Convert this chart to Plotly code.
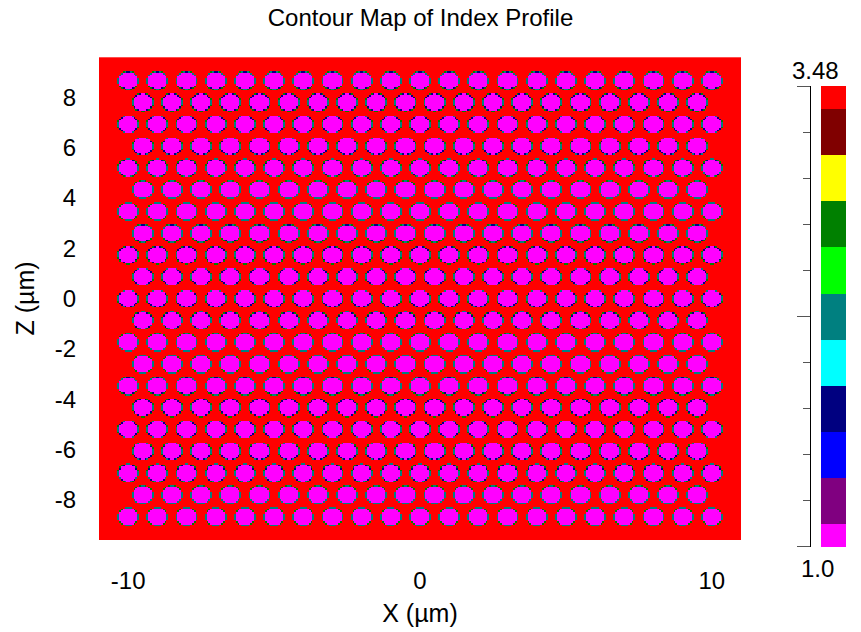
import numpy as np
import plotly.graph_objects as go

# ---------------- data ----------------
title_text = "Contour Map of Index Profile"
n_background = 3.48
n_hole = 1.0
index_levels = [1.0, 1.248, 1.496, 1.744, 1.992, 2.24, 2.488, 2.736, 2.984, 3.232, 3.48]
level_colors = ["#FF00FF", "#800080", "#0000FF", "#000080", "#00FFFF", "#008080",
                "#00FF00", "#008000", "#FFFF00", "#800000", "#FF0000"]

# hole rows (z, µm) of the triangular lattice, top to bottom
row_z = [8.660, 7.794, 6.928, 6.062, 5.196, 4.330, 3.464, 2.598, 1.732, 0.866, 0.0,
         -0.866, -1.732, -2.598, -3.464, -4.330, -5.196, -6.062, -6.928, -7.794, -8.660]
row_is_full = [True, False, True, False, True, False, True, False, True, False, True,
               False, True, False, True, False, True, False, True, False, True]
cols_full = [-10, -9, -8, -7, -6, -5, -4, -3, -2, -1, 0, 1, 2, 3, 4, 5, 6, 7, 8, 9, 10]
cols_offset = [-9.5, -8.5, -7.5, -6.5, -5.5, -4.5, -3.5, -2.5, -1.5, -0.5,
               0.5, 1.5, 2.5, 3.5, 4.5, 5.5, 6.5, 7.5, 8.5, 9.5]
hole_radius = 0.35

x_range = [-11.0, 11.0]
z_range = [-9.6, 9.6]
x_tickvals = [-10, 0, 10]
x_ticktext = ["-10", "0", "10"]
z_tickvals = [8, 6, 4, 2, 0, -2, -4, -6, -8]
z_ticktext = ["8", "6", "4", "2", "0", "-2", "-4", "-6", "-8"]

# ---------------- index grid ----------------
step = 0.0625
x_c = np.arange(x_range[0] + step / 2, x_range[1], step)
z_c = np.arange(z_range[0] + step / 2, z_range[1], step)
sub = 2
xs = (x_c[:, None] + (np.arange(sub) + 0.5 - sub / 2) * step / sub).ravel()
zs = (z_c[:, None] + (np.arange(sub) + 0.5 - sub / 2) * step / sub).ravel()
inside = np.zeros((zs.size, xs.size), dtype=bool)
for zc, full in zip(row_z, row_is_full):
    zi = np.where(np.abs(zs - zc) <= hole_radius + step)[0]
    for xc in (cols_full if full else cols_offset):
        xi = np.where(np.abs(xs - xc) <= hole_radius + step)[0]
        XX, ZZ = np.meshgrid(xs[xi], zs[zi])
        inside[np.ix_(zi, xi)] |= (XX - xc) ** 2 + (ZZ - zc) ** 2 <= hole_radius ** 2
frac = inside.reshape(z_c.size, sub, x_c.size, sub).mean(axis=(1, 3))
# partially-filled edge cells of the index mesh
edge_level_index = {0.0: 10, 0.25: 7, 0.5: 5, 0.75: 3, 1.0: 0}
lev_idx = np.zeros(frac.shape, dtype=int)
for f, li in edge_level_index.items():
    lev_idx[np.isclose(frac, f)] = li
n_grid = np.array(index_levels)[lev_idx]

# discrete colour scale: each level owns a band centred on it
d = index_levels[1] - index_levels[0]
zmin = index_levels[0] - d / 2
zmax = index_levels[-1] + d / 2
nL = len(level_colors)
colorscale = []
for i, c in enumerate(level_colors):
    colorscale.append([i / nL, c])
    colorscale.append([(i + 1) / nL, c])

font_family = "Arial, 'Liberation Sans', sans-serif"

fig = go.Figure()
fig.add_trace(go.Heatmap(x=x_c, y=z_c, z=n_grid, colorscale=colorscale,
                         zmin=zmin, zmax=zmax, showscale=False, zsmooth=False,
                         hoverinfo="skip"))
# colour bar drawn as its own heatmap
fig.add_trace(go.Heatmap(x=[0], y=index_levels, z=[[v] for v in index_levels],
                         colorscale=colorscale, zmin=zmin, zmax=zmax,
                         showscale=False, xaxis="x2", yaxis="y2", hoverinfo="skip"))

W, H = 861, 632
ml, mr, mt, mb = 99, 10, 57, 85
pw, ph = W - ml - mr, H - mt - mb


def px_x(p):
    return (p - ml) / pw


def px_y(p):
    return (H - mb - p) / ph


fig.update_layout(
    width=W, height=H,
    margin=dict(l=ml, r=mr, t=mt, b=mb, pad=0),
    paper_bgcolor="white", plot_bgcolor="white",
    font=dict(family=font_family, color="black", size=24),
    title=dict(text=title_text, xref="container", yref="container",
               x=420.5 / W, y=1 - 18 / H, xanchor="center", yanchor="middle",
               font=dict(size=24, family=font_family, color="black")),
    xaxis=dict(domain=[0, px_x(741)], range=x_range, tickmode="array",
               tickvals=x_tickvals, ticktext=x_ticktext, ticks="", showgrid=False,
               zeroline=False, showline=False, ticklabelstandoff=24,
               tickfont=dict(size=24),
               title=dict(text="X (µm)", font=dict(size=25), standoff=11)),
    yaxis=dict(domain=[px_y(540), 1], range=z_range, tickmode="array",
               tickvals=z_tickvals, ticktext=z_ticktext, ticks="", showgrid=False,
               zeroline=False, showline=False, ticklabelstandoff=22,
               tickfont=dict(size=24),
               title=dict(text="Z (µm)", font=dict(size=25), standoff=12)),
    xaxis2=dict(domain=[px_x(821), px_x(846)], anchor="y2", range=[-0.5, 0.5],
                visible=False),
    yaxis2=dict(domain=[0, px_y(86)], anchor="free", position=px_x(810), side="left",
                range=[index_levels[0] - 0.0005, index_levels[-1] + 0.0005],
                showline=True, linecolor="black", linewidth=1,
                tickmode="linear", tick0=index_levels[0],
                dtick=(index_levels[-1] - index_levels[0]) / 2,
                ticks="outside", ticklen=13, tickwidth=1, tickcolor="#555555",
                minor=dict(ticks="outside", tick0=index_levels[0], dtick=d,
                           ticklen=7, tickwidth=1, tickcolor="#555555", showgrid=False),
                showticklabels=False, showgrid=False, zeroline=False),
    annotations=[
        dict(text=f"{index_levels[-1]:.2f}", xref="paper", yref="paper",
             x=px_x(815), y=px_y(70), xanchor="center", yanchor="middle",
             showarrow=False, font=dict(size=24, family=font_family, color="black")),
        dict(text=f"{index_levels[0]:.1f}", xref="paper", yref="paper",
             x=px_x(817), y=px_y(568), xanchor="center", yanchor="middle",
             showarrow=False, font=dict(size=24, family=font_family, color="black")),
    ],
)

fig.write_html("out.html")
